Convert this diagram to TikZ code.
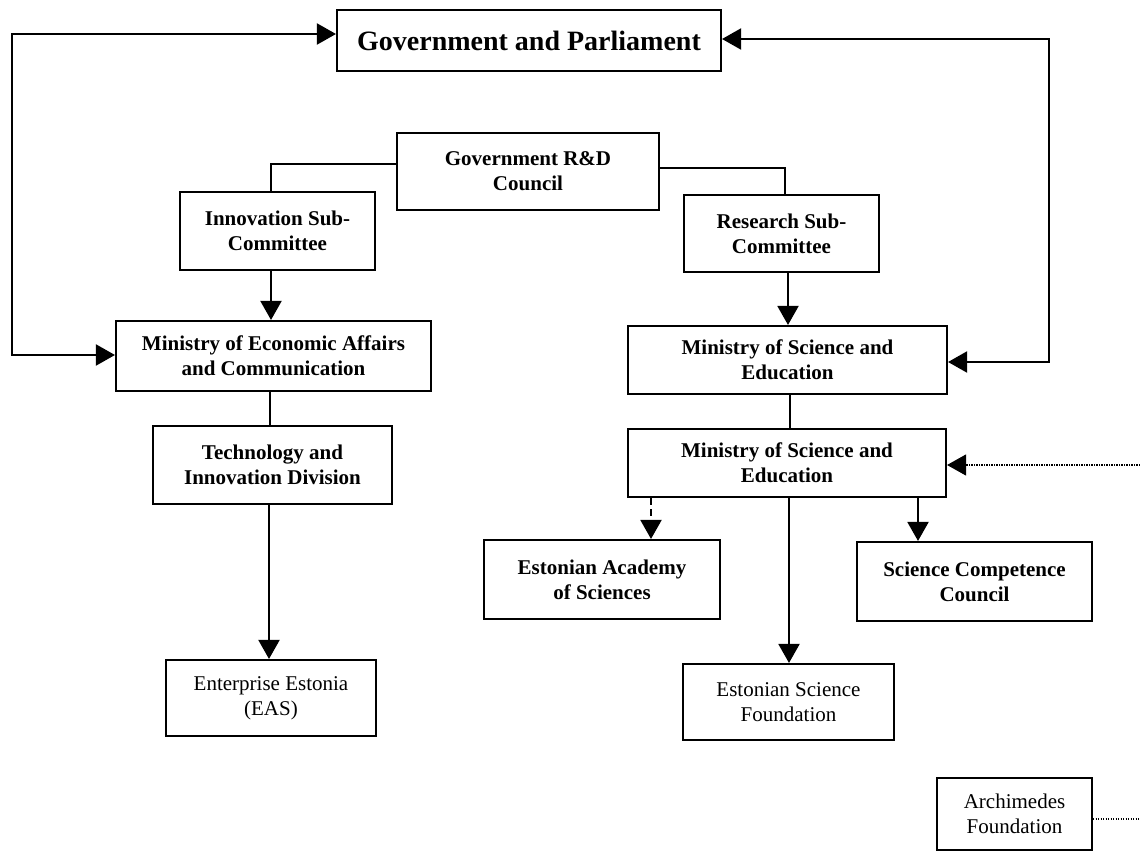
\documentclass[tikz,border=0pt]{standalone}
\usepackage{fontspec}
\setmainfont{Liberation Serif}
\usetikzlibrary{arrows.meta}
\begin{document}
\begin{tikzpicture}[x=1pt,y=-1pt,
  box/.style={draw, line width=2.1pt, align=center, inner sep=0pt, font=\fontsize{21}{25}\selectfont\bfseries},
  plainbox/.style={box, font=\fontsize{21}{25}\selectfont},
  conn/.style={line width=2pt},
  tip/.tip={Triangle[length=19pt,width=21pt]},
  arr/.style={conn, -tip},
  both/.style={conn, tip-tip},
  darr/.style={arr, dash pattern=on 7pt off 4pt},
  dotline/.style={line width=1.1pt, dash pattern=on 1.2pt off 1.3pt},
]
\fill[white] (0,0) rectangle (1140,856);
\useasboundingbox (0,0) rectangle (1140,856);

% nodes
\node[box, minimum width=384pt, minimum height=61pt, font=\fontsize{28}{31}\selectfont\bfseries] (gp) at (529,40.5) {Government and Parliament};
\node[box, minimum width=262pt, minimum height=77pt] (council) at (528,171.5) {Government R\&D\\Council};
\node[box, minimum width=195pt, minimum height=78pt] (innov) at (277.5,231) {Innovation Sub-\\Committee};
\node[box, minimum width=195pt, minimum height=77pt] (research) at (781.5,233.5) {Research Sub-\\Committee};
\node[box, minimum width=315pt, minimum height=70pt] (econ) at (273.5,356) {Ministry of Economic Affairs\\and Communication};
\node[box, minimum width=239pt, minimum height=78pt] (tech) at (272.5,465) {Technology and\\Innovation Division};
\node[plainbox, minimum width=210pt, minimum height=76pt] (eas) at (271,698) {Enterprise Estonia\\(EAS)};
\node[box, minimum width=319pt, minimum height=68pt] (sci1) at (787.5,360) {Ministry of Science and\\Education};
\node[box, minimum width=318pt, minimum height=68pt] (sci2) at (787,463) {Ministry of Science and\\Education};
\node[box, minimum width=236pt, minimum height=79pt] (acad) at (602,579.5) {Estonian Academy\\of Sciences};
\node[box, minimum width=235pt, minimum height=79pt] (scc) at (974.5,581.5) {Science Competence\\Council};
\node[plainbox, minimum width=211pt, minimum height=76pt] (etf) at (788.5,702) {Estonian Science\\Foundation};
\node[plainbox, minimum width=155pt, minimum height=72pt] (arch) at (1014.5,814) {Archimedes\\Foundation};

% loops to Government and Parliament
\coordinate (L1) at (12,34);
\coordinate (L2) at (12,355);
\draw[both] (L1 -| gp.west) -- (L1) -- (L2) -- (L2 -| econ.west);
\coordinate (R1) at (1049,39);
\coordinate (R2) at (1049,362);
\draw[both] (R1 -| gp.east) -- (R1) -- (R2) -- (R2 -| sci1.east);

% council branches
\coordinate (C1) at (271,164);
\draw[conn] (C1 -| council.west) -- (C1) -- (C1 |- innov.north);
\coordinate (C2) at (785,168);
\draw[conn] (C2 -| council.east) -- (C2) -- (C2 |- research.north);

% left column
\coordinate (x1) at (271,0);
\draw[arr] (x1 |- innov.south) -- (x1 |- econ.north);
\coordinate (x2) at (270,0);
\draw[conn] (x2 |- econ.south) -- (x2 |- tech.north);
\coordinate (x3) at (269,0);
\draw[arr] (x3 |- tech.south) -- (x3 |- eas.north);

% right column
\coordinate (y1) at (788,0);
\draw[arr] (y1 |- research.south) -- (y1 |- sci1.north);
\coordinate (y2) at (790,0);
\draw[conn] (y2 |- sci1.south) -- (y2 |- sci2.north);
\coordinate (y3) at (651,0);
\draw[darr] (y3 |- sci2.south) -- (y3 |- acad.north);
\coordinate (y4) at (918,0);
\draw[arr] (y4 |- sci2.south) -- (y4 |- scc.north);
\coordinate (y5) at (789,0);
\draw[arr] (y5 |- sci2.south) -- (y5 |- etf.north);

% dotted links at the right edge
\coordinate (D1) at (1140,465);
\draw[dotline, -tip] (D1) -- (D1 -| sci2.east);
\coordinate (D2) at (1140,819);
\draw[dotline] (D2 -| arch.east) -- (D2);
\end{tikzpicture}
\end{document}
